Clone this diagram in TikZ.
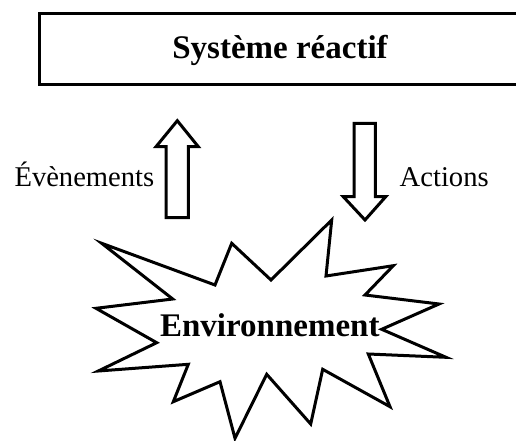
\documentclass[tikz,border=0pt]{standalone}
\usepackage{fontspec}
\setmainfont{Liberation Serif}
\begin{document}
\begin{tikzpicture}[x=1pt,y=-1pt,
  outline/.style={draw=black,line width=3pt,fill=white},
  boldlabel/.style={font=\fontsize{33}{38}\selectfont\bfseries,inner sep=0pt},
  plainlabel/.style={font=\fontsize{28.6}{33}\selectfont,inner sep=0pt}]
\useasboundingbox (0,0) rectangle (516,441);
% system box (runs off the right edge)
\node[outline,rectangle,minimum width=502.5pt,minimum height=71pt,anchor=north west,inner sep=0pt] (sys) at (37.5,12.5) {};
\node[boldlabel,anchor=base] (systxt) at (280,58.3) {Système réactif};
% up arrow (events)
\draw[outline] (166,217.7) coordinate (upbase) -- (166,146.7) -- (156,146.7) -- (177.3,120.7) coordinate (uptip) -- (198.3,146.7) -- (188.3,146.7) -- (188.3,217.7) -- cycle;
% down arrow (actions)
\draw[outline] (354,123.3) coordinate (dnbase) -- (375.3,123.3) -- (375.3,196.7) -- (385.7,196.7) -- (365,220) coordinate (dntip) -- (343.3,196.7) -- (354,196.7) -- cycle;
\node[plainlabel,anchor=base east] (evt) at (154.5,186) {Évènements};
\node[plainlabel,anchor=base west] (act) at (399.5,186) {Actions};
% environment starburst
\draw[outline] (101.7,243.3) -- (215,285) -- (231.7,243.3) -- (271,280) -- (331.7,220) -- (326,276) -- (393.3,265.7) -- (365,295) -- (439,304) -- (381.7,329.3) -- (446,357.3) -- (368.3,354) -- (390,406.7) -- (322.7,369.3) -- (310.7,424) -- (266.7,374.3) -- (235,438.3) -- (220,381.7) -- (173.3,401.7) -- (188.3,364.3) -- (98.3,371) -- (156.7,342.7) -- (96,308.3) -- (172.7,299) -- cycle;
\node[boldlabel,anchor=base] (env) at (269.8,336.7) {Environnement};
\end{tikzpicture}
\end{document}
